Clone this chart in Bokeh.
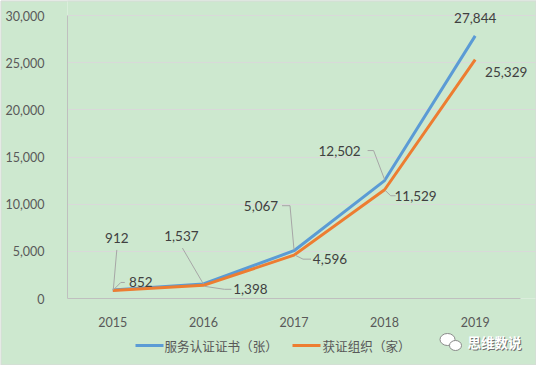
import numpy as np
from bokeh.plotting import figure
from bokeh.models import ColumnDataSource, LabelSet, FixedTicker, NumeralTickFormatter, Range1d
from bokeh.core.properties import value
from bokeh.embed import file_html
from bokeh.resources import INLINE

# ---------------- data ----------------
years = [2015, 2016, 2017, 2018, 2019]
certs = [912, 1537, 5067, 12502, 27844]      # 服务认证证书（张）
orgs = [852, 1398, 4596, 11529, 25329]       # 获证组织（家）
series_names = ["服务认证证书（张）", "获证组织（家）"]
y_ticks = [0, 5000, 10000, 15000, 20000, 25000, 30000]
watermark = "思维数说"

BLUE = "#5B9BD5"
ORANGE = "#ED7D31"
BG = "#CDE8CF"
GRID = "#D9D9D9"
AXIS = "#BFBFBF"
TICK_TXT = "#595959"
LBL_TXT = "#404040"
LEADER = "#A6A6A6"

W, H = 536, 365
FL, FB = 67, 298            # frame left / x-axis position (px from top-left)
BL, BR, BT, BB = FL, 0, 0, H - FB
FW, FH = W - BL - BR, H - BT - BB
PX_X = 90.6                 # px per year
PX_Y = 283 / 30000          # px per unit
X0 = 2014.5
X1 = X0 + FW / PX_X
Y0 = 0
Y1 = FH / PX_Y
XB = (2014.5, 2019.5)       # visible axis extent
YB = (0, 30000)

p = figure(width=W, height=H, output_backend="svg", toolbar_location=None,
           x_range=Range1d(X0, X1), y_range=Range1d(Y0, Y1),
           min_border_left=BL, min_border_right=BR, min_border_top=BT, min_border_bottom=BB)
p.background_fill_color = BG
p.border_fill_color = BG
p.outline_line_color = None

# axes
p.xaxis.ticker = FixedTicker(ticks=years)
p.yaxis.ticker = FixedTicker(ticks=y_ticks)
p.yaxis.formatter = NumeralTickFormatter(format="0,0")
p.xaxis.bounds = XB
p.yaxis.bounds = YB
for ax in (p.xaxis[0], p.yaxis[0]):
    ax.axis_line_color = AXIS
    ax.axis_line_width = 1
    ax.major_tick_line_color = None
    ax.minor_tick_line_color = None
    ax.major_label_text_color = TICK_TXT
    ax.major_label_text_font = "Lato"
    ax.major_label_text_font_size = "12.5px"
p.yaxis.major_label_standoff = 17
p.xaxis.major_label_standoff = 12
p.xgrid.grid_line_color = None
p.ygrid.grid_line_color = GRID
p.ygrid.grid_line_width = 1
p.ygrid.bounds = XB

# lines
r_blue = p.line(years, certs, line_color=BLUE, line_width=3)
r_orange = p.line(years, orgs, line_color=ORANGE, line_width=3)

# data labels (pixel offsets; positive y = up)
blue_off = [(4, 52), (-22, 48), (-33, 45), (-45, 30), (0, 18)]
orange_off = [(28, 8), (47, -4), (36, -4), (31, -6), (31, -12)]

def fmt(v):
    return f"{v:,}"

lbl_src = ColumnDataSource(dict(
    x=years + years,
    y=certs + orgs,
    t=[fmt(v) for v in certs] + [fmt(v) for v in orgs],
    dx=[o[0] for o in blue_off] + [o[0] for o in orange_off],
    dy=[o[1] for o in blue_off] + [o[1] for o in orange_off],
))
labels = LabelSet(x="x", y="y", text="t", source=lbl_src, x_offset="dx", y_offset="dy",
                  text_align="center", text_baseline="middle",
                  text_font=value("Lato"), text_font_size="13.5px", text_color=LBL_TXT)
p.add_layout(labels)

# leader lines: pixel offsets relative to point (dx right, dy down)
leaders = [
    ("b", 0, [(4, -40), (0.5, 0)]),
    ("o", 0, [(12, -8), (8, -8), (1, -1)]),
    ("b", 1, [(-21, -36), (0, 0)]),
    ("o", 1, [(1, 1), (21, 4), (28, 4)]),
    ("b", 2, [(-12, -45), (-4, -45), (0, -1)]),
    ("o", 2, [(1, 0), (9, 4), (17, 4)]),
    ("b", 3, [(-17, -30), (-11, -30), (0, -1)]),
    ("o", 3, [(1, 1), (6, 6), (11, 6)]),
]
xs, ys = [], []
for s, i, pts in leaders:
    v = certs[i] if s == "b" else orgs[i]
    xs.append([years[i] + dx / PX_X for dx, dy in pts])
    ys.append([v - dy / PX_Y for dx, dy in pts])
p.multi_line(xs, ys, line_color=LEADER, line_width=1)

# helpers: pixel -> data coordinates (for the legend and watermark under the frame)
def px2x(px):
    return X0 + (px - FL) / PX_X

def px2y(py):
    return -(py - FB) / PX_Y

# legend, drawn as overlay-level glyphs below the x axis
LEG_Y = 345
sw_x0 = [135, 292]
sw_x1 = [163, 320]
txt_x = [164, 322]
p.segment(x0=[px2x(v) for v in sw_x0], y0=[px2y(LEG_Y)] * 2,
          x1=[px2x(v) for v in sw_x1], y1=[px2y(LEG_Y)] * 2,
          line_color=[BLUE, ORANGE], line_width=3, level="overlay")
p.text(x=[px2x(v) for v in txt_x], y=[px2y(LEG_Y)] * 2, text=series_names,
       text_font=value("Noto Sans CJK SC"), text_font_size="12.6px", text_color=TICK_TXT,
       text_baseline="middle", text_align="left", level="overlay")

# watermark
p.ellipse(x=[px2x(447), px2x(455)], y=[px2y(339), px2y(345)], width=[15, 12], height=[12, 10],
          width_units="screen", height_units="screen",
          fill_color="white", line_color="#8a8a8a", line_width=1, level="overlay")
p.text(x=[px2x(468)], y=[px2y(342)], text=[watermark],
       text_font=value("Noto Sans CJK SC"), text_font_size="13.5px", text_font_style="bold",
       text_color="#707070", text_baseline="middle", text_align="left", level="overlay")
p.text(x=[px2x(467)], y=[px2y(341)], text=[watermark],
       text_font=value("Noto Sans CJK SC"), text_font_size="13.5px", text_font_style="bold",
       text_color="white", text_baseline="middle", text_align="left", level="overlay")

# thin outer border of the chart area
p.quad(left=[px2x(0.5)], right=[px2x(W - 0.5)], top=[px2y(0.5)], bottom=[px2y(H - 0.5)],
       fill_alpha=0, line_color="#D9D9D9", line_width=1, level="overlay")

open("out.html", "w").write(file_html(p, INLINE))
